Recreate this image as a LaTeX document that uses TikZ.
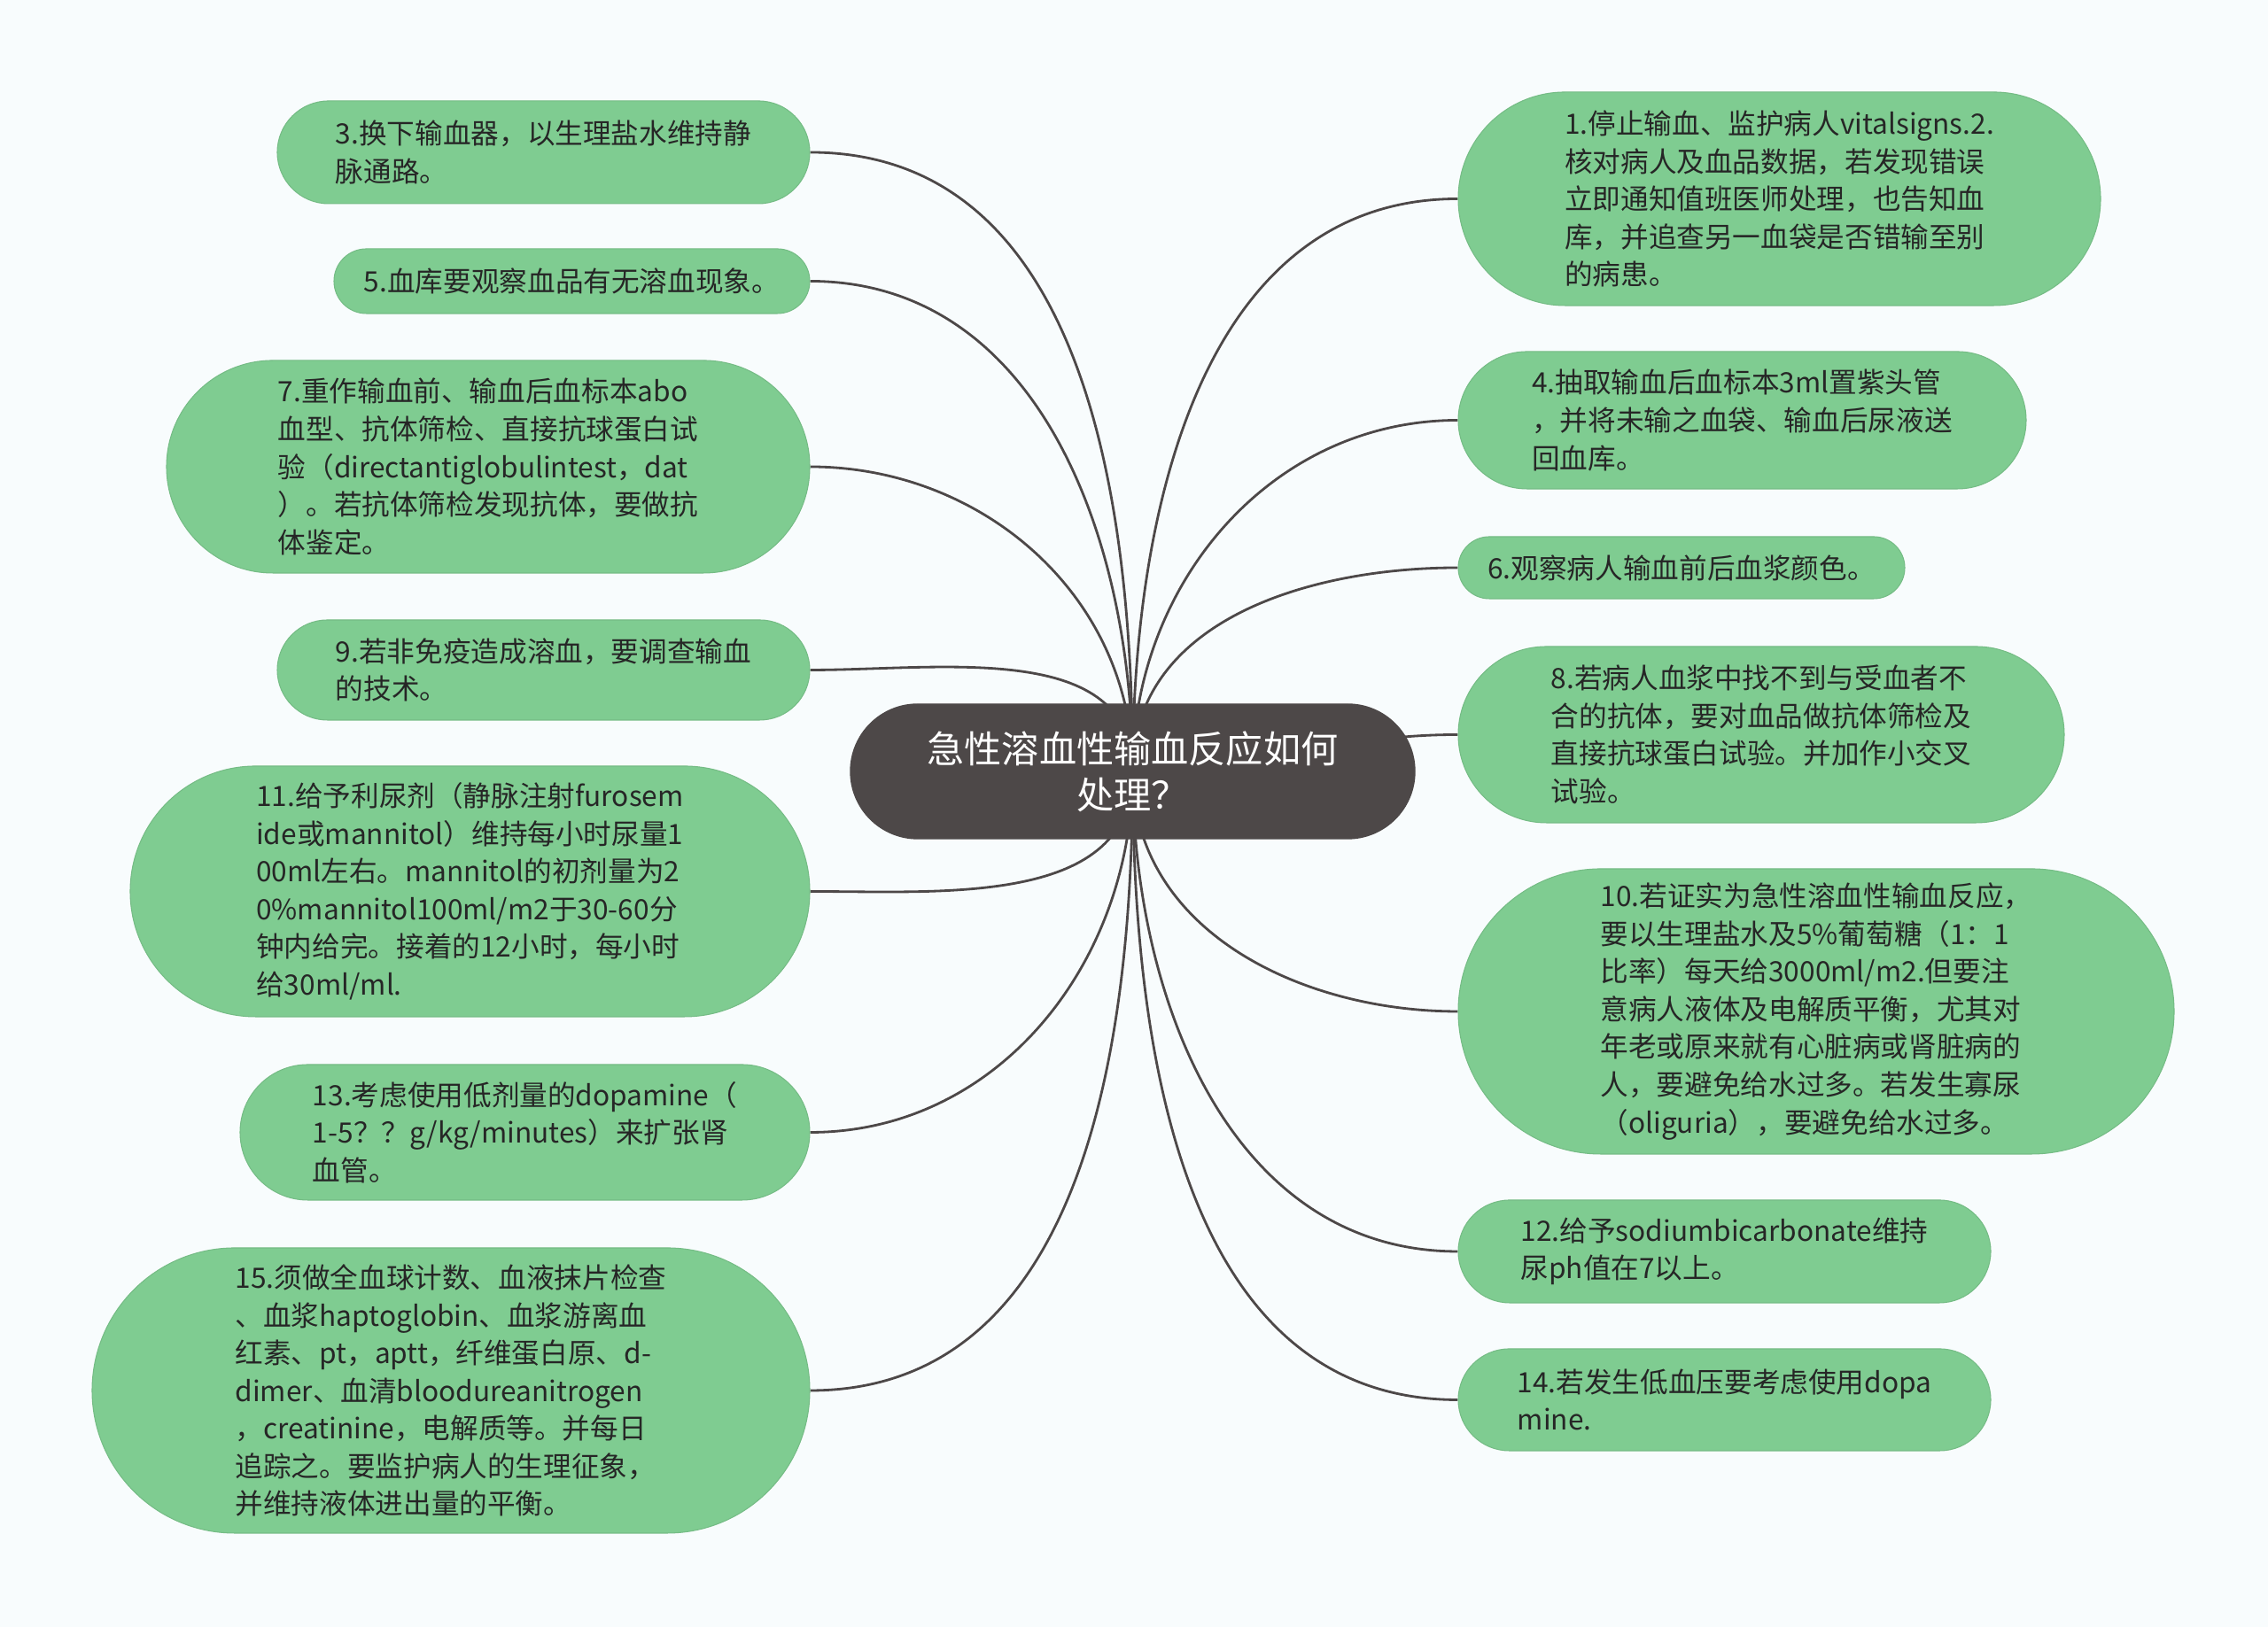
\documentclass[tikz,border=0pt]{standalone}
\usepackage{fontspec}
\newfontfamily\cjk{Noto Sans CJK SC}
\usetikzlibrary{backgrounds}
\definecolor{leafgreen}{RGB}{127,204,145}
\definecolor{topicgray}{RGB}{77,72,72}
\definecolor{linkgray}{RGB}{77,72,72}
\definecolor{paper}{RGB}{248,252,253}
\definecolor{inkdark}{RGB}{38,38,38}

\begin{document}
\begin{tikzpicture}[x=1mm,y=1mm,
  leaf/.style 2 args={rectangle,fill=leafgreen,draw=leafgreen!92!black,line width=0.3pt,inner sep=0pt,
    minimum width=#1,minimum height=#2,rounded corners=#2*0.5,align=left,text=inkdark,
    font=\cjk\fontsize{9}{12.1}\selectfont},
  topic/.style={rectangle,fill=topicgray,draw=topicgray,inner sep=0pt,minimum width=63.7mm,minimum height=15.2mm,
    rounded corners=7.6mm,align=center,text=white,font=\cjk\fontsize{12}{14.8}\selectfont},
  link/.style={draw=linkgray,line width=0.8pt}]
\useasboundingbox (0,0) rectangle (256,183.7);
\node[topic] (root) at (127.85,96.6) {急性溶血性输血反应如何\\处理？};
% left side
\node[leaf={60.1mm}{11.6mm}] (n3) at (61.35,166.5) {3.换下输血器，以生理盐水维持静\\脉通路。};
\node[leaf={53.7mm}{7.3mm}] (n5) at (64.55,151.95) {5.血库要观察血品有无溶血现象。};
\node[leaf={72.6mm}{24mm}] (n7) at (55.1,131) {7.重作输血前、输血后血标本abo\\血型、抗体筛检、直接抗球蛋白试\\验（directantiglobulintest，dat\\）。若抗体筛检发现抗体，要做抗\\体鉴定。};
\node[leaf={60.1mm}{11.3mm}] (n9) at (61.35,108.05) {9.若非免疫造成溶血，要调查输血\\的技术。};
\node[leaf={76.7mm}{28.3mm}] (n11) at (53.05,83.05) {11.给予利尿剂（静脉注射furosem\\ide或mannitol）维持每小时尿量1\\00ml左右。mannitol的初剂量为2\\0\%mannitol100ml/m2于30-60分\\钟内给完。接着的12小时，每小时\\给30ml/ml.};
\node[leaf={64.3mm}{15.3mm}] (n13) at (59.25,55.85) {13.考虑使用低剂量的dopamine（\\1-5？？g/kg/minutes）来扩张肾\\血管。};
\node[leaf={81mm}{32.2mm}] (n15) at (50.9,26.7) {15.须做全血球计数、血液抹片检查\\、血浆haptoglobin、血浆游离血\\红素、pt，aptt，纤维蛋白原、d-\\dimer、血清bloodureanitrogen\\，creatinine，电解质等。并每日\\追踪之。要监护病人的生理征象，\\并维持液体进出量的平衡。};
% right side
\node[leaf={72.5mm}{24.1mm}] (n1) at (200.85,161.25) {1.停止输血、监护病人vitalsigns.2.\\核对病人及血品数据，若发现错误\\立即通知值班医师处理，也告知血\\库，并追查另一血袋是否错输至别\\的病患。};
\node[leaf={64.1mm}{15.5mm}] (n4) at (196.65,136.25) {4.抽取输血后血标本3ml置紫头管\\，并将未输之血袋、输血后尿液送\\回血库。};
\node[leaf={50.4mm}{7mm}] (n6) at (189.8,119.6) {6.观察病人输血前后血浆颜色。};
\node[leaf={68.4mm}{19.9mm}] (n8) at (198.8,100.75) {8.若病人血浆中找不到与受血者不\\合的抗体，要对血品做抗体筛检及\\直接抗球蛋白试验。并加作小交叉\\试验。};
\node[leaf={80.8mm}{32.2mm}] (n10) at (205,69.5) {10.若证实为急性溶血性输血反应，\\要以生理盐水及5\%葡萄糖（1：1\\比率）每天给3000ml/m2.但要注\\意病人液体及电解质平衡，尤其对\\年老或原来就有心脏病或肾脏病的\\人，要避免给水过多。若发生寡尿\\（oliguria），要避免给水过多。};
\node[leaf={60.1mm}{11.6mm}] (n12) at (194.65,42.4) {12.给予sodiumbicarbonate维持\\尿ph值在7以上。};
\node[leaf={60.1mm}{11.5mm}] (n14) at (194.65,25.65) {14.若发生低血压要考虑使用dopa\\mine.};
\begin{scope}[on background layer]
\fill[paper] (0,0) rectangle (256,183.7);
\foreach \n in {n3,n5,n7,n9} \draw[link] (root.center) to[out=90,in=0] (\n.east);
\foreach \n in {n11,n13,n15} \draw[link] (root.center) to[out=-90,in=0] (\n.east);
\foreach \n in {n1,n4,n6} \draw[link] (root.center) to[out=90,in=180] (\n.west);
\draw[link] (root.center) to[out=0,in=180] (n8.west);
\foreach \n in {n10,n12,n14} \draw[link] (root.center) to[out=-90,in=180] (\n.west);
\end{scope}
\end{tikzpicture}
\end{document}
